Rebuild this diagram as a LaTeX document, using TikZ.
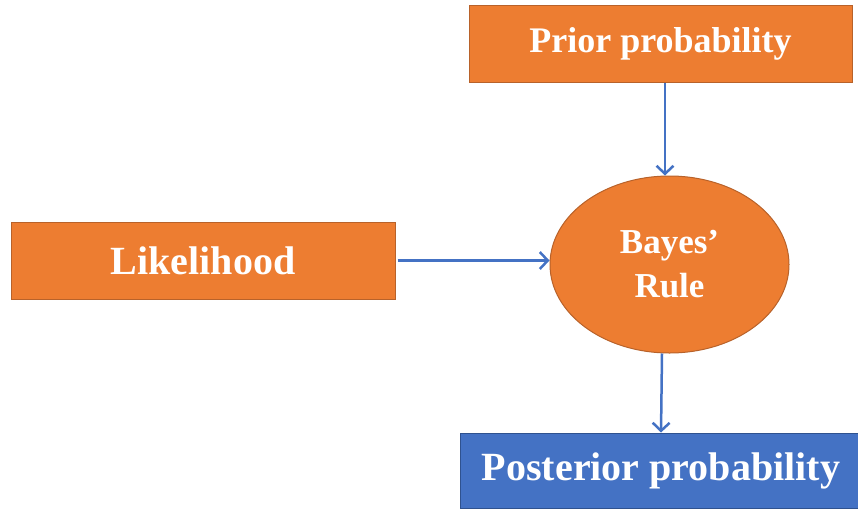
\documentclass[tikz,border=0pt]{standalone}
\usepackage{fontspec}
\setmainfont{Liberation Serif}
\usepackage{tikz}
\usetikzlibrary{shapes.geometric,arrows.meta}
\definecolor{boxorange}{HTML}{ED7D31}
\definecolor{edgeorange}{HTML}{B8622A}
\definecolor{boxblue}{HTML}{4472C4}
\definecolor{edgeblue}{HTML}{2F528F}
\tikzset{my box/.style={
  draw=edgeorange,
  fill=boxorange,
  line width=1pt,
  text=white,
  inner sep=0pt,
  font=\bfseries
  }
}
\tikzset{my arrow/.style={
  boxblue,
  line width=2.5pt,
  -{Straight Barb[length=8pt,width=17pt,line width=2.5pt]}
  }
}

\begin{document}
\begin{tikzpicture}[x=1pt,y=-1pt]
    \useasboundingbox (0,0) rectangle (858,511);

    \node[my box,minimum width=383pt,minimum height=76pt,font=\bfseries\fontsize{36}{40}\selectfont] at (660.5,44) (Prior) {Prior probability};
    \node[my box,minimum width=384pt,minimum height=77pt,font=\bfseries\fontsize{40}{44}\selectfont] at (203,260.5) (Likelihood) {Likelihood};
    \node[my box,ellipse,minimum width=239pt,minimum height=177pt,align=center,font=\bfseries\fontsize{35}{44}\selectfont] at (669.5,264.5) (Bayes) {Bayes’\\Rule};
    \node[my box,draw=edgeblue,fill=boxblue,minimum width=402pt,minimum height=75pt,font=\bfseries\fontsize{40}{44}\selectfont] at (661,470.5) (Posterior) {Posterior probability};

    \draw[my arrow] ([xshift=4.5pt]Prior.south) to ([xshift=-4.5pt]Bayes.north);
    \draw[my arrow] ([xshift=2pt]Likelihood.east) to (Likelihood.east -| Bayes.west);
    \draw[my arrow] ([xshift=-7.5pt]Bayes.south) to (Posterior.north);

\end{tikzpicture}
\end{document}
